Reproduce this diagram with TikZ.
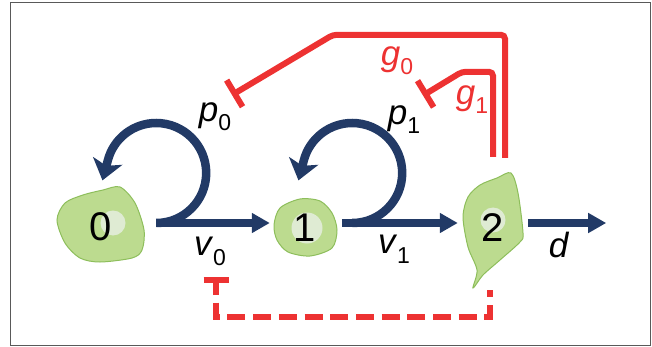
\documentclass[tikz,border=0pt]{standalone}
\usepackage{fontspec}
\setmainfont{Liberation Sans}
\usetikzlibrary{arrows.meta}
\pgfdeclarelayer{background}
\pgfdeclarelayer{foreground}
\pgfsetlayers{background,main,foreground}
\definecolor{navy}{RGB}{34,58,102}
\definecolor{inhib}{RGB}{237,50,50}
\definecolor{cellfill}{RGB}{188,219,143}
\definecolor{celledge}{RGB}{141,190,91}
\definecolor{nucfill}{RGB}{223,235,211}
\newcommand{\sublab}[3]{\textit{#1}\raisebox{#3}{\fontsize{23}{23}\selectfont #2}}

\begin{document}
\begin{tikzpicture}[x=1pt,y=-1pt,
  cell/.style={inner sep=0pt,font=\fontsize{40}{40}\selectfont},
  blob/.style={fill=cellfill,draw=celledge,line width=1pt},
  nucleus/.style={fill=nucfill},
  flow/.style={draw=navy,line width=8.5pt,-{Triangle[length=18pt,width=19pt]}},
  loopflow/.style={draw=navy,line width=8.5pt,-{Stealth[length=20pt,width=30pt,inset=5pt]}},
  inhibit/.style={draw=inhib,line width=6pt,rounded corners=4pt,-{Bar[width=31pt]}},
  lab/.style={inner sep=0pt,font=\fontsize{35}{35}\selectfont}]
\useasboundingbox (0,0) rectangle (652,347);
\draw[line width=1.5pt,black!65] (10.7,2.7) rectangle (650.7,345.7);
\begin{pgfonlayer}{background}
\draw[blob] plot[smooth cycle] coordinates {(57,220) (65,203) (83,195) (103,190) (120,187) (135,203) (144,230) (142,250) (132,258) (100,262) (80,258) (65,243)};
\fill[nucleus] (113,223) circle[radius=12.5];
\draw[blob] plot[smooth cycle] coordinates {(274,225) (280,208) (300,199) (320,201) (332,213) (337,230) (332,248) (310,256) (288,252) (277,240)};
\fill[nucleus] (307,228) circle[radius=15.5];
\draw[blob] plot[smooth cycle] coordinates {(511,173) (518,193) (523,233) (520,242) (500,260) (483,275) (473,288) (477,270) (468,247) (463,217) (468,197) (480,185) (497,178)};
\fill[nucleus] (493,220) circle[radius=12.5];
\end{pgfonlayer}
\node[cell,minimum width=88,minimum height=76] (c0) at (101,227) {0};
\node[cell,minimum width=63,minimum height=57] (c1) at (305,228) {1};
\node[cell,minimum width=60,minimum height=115] (c2) at (493,228) {2};
\coordinate (s0) at ([shift={(11,-4)}]c0.east);
\coordinate (s1) at ([shift={(5.5,-5)}]c1.east);
\coordinate (b0) at (232,95);
\coordinate (b1) at (423,95.5);
\coordinate (t0) at (216,277);
\draw[flow] (s0) -- ([shift={(-3.5,-5)}]c1.west);
\draw[flow] (s1) -- ([shift={(-5,-5)}]c2.west);
\draw[flow] ([shift={(5,-5)}]c2.east) -- ++(78,0);
\draw[loopflow] (s0) arc[start angle=90,end angle=-165,radius=50] -- ++(105:21);
\draw[loopflow] ([shift={(10,0)}]s1) arc[start angle=90,end angle=-165,radius=50] -- ++(105:21);
\draw[inhibit] ([shift={(12,-12.5)}]c2.north) -- ++(0,-123) -- ++(-172,0) -- (b0);
\draw[inhibit] ([shift={(0,-13.5)}]c2.north) -- ++(0,-85) -- ++(-31,0) -- (b1);
\draw[inhibit,-,rounded corners=0pt,dash pattern=on 18pt off 7.7pt] ([shift={(0,25.7)}]t0) -- ++(0,14.3) -| ([shift={(-3,4.5)}]c2.south);
\draw[inhibit,-{Bar[width=25pt]}] ([shift={(0,18)}]t0) -- (t0);
\node[lab] (p0) at (215,117) {\sublab{p}{0}{-9pt}};
\node[lab] (p1) at (404,120) {\sublab{p}{1}{-9pt}};
\node[lab] (v0) at (210,251) {\sublab{v}{0}{-10pt}};
\node[lab] (v1) at (394,249) {\sublab{v}{1}{-10pt}};
\node[lab] (d) at (559,245) {\textit{d}};
\node[lab,text=inhib] (g0) at (397,61) {\sublab{g}{0}{-9pt}};
\node[lab,text=inhib] (g1) at (472,100) {\sublab{g}{1}{-9pt}};
\end{tikzpicture}
\end{document}
